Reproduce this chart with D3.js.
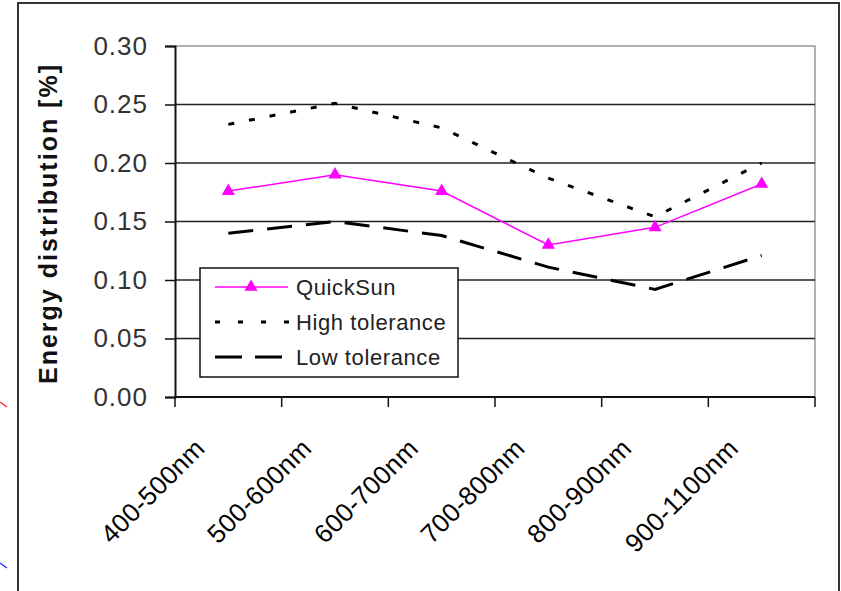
<!DOCTYPE html>
<html>
<head>
<meta charset="utf-8">
<script src="https://cdn.jsdelivr.net/npm/d3@7"></script>
<style>
  html, body { margin: 0; padding: 0; background: #fff; }
  svg { display: block; }
  text { font-family: Arial, "Liberation Sans", sans-serif; }
</style>
</head>
<body>
<svg id="chart" width="841" height="591"></svg>
<script>
// Spectral bands and energy share per band
const categories = ["400-500nm", "500-600nm", "600-700nm", "700-800nm", "800-900nm", "900-1100nm"];
const quickSun  = [0.176, 0.190, 0.176, 0.130, 0.145, 0.182];
const highTol   = [0.233, 0.251, 0.230, 0.187, 0.154, 0.200];
const lowTol    = [0.140, 0.150, 0.138, 0.111, 0.092, 0.121];
const yTicks    = [0.00, 0.05, 0.10, 0.15, 0.20, 0.25, 0.30];
const seriesNames = ["QuickSun", "High tolerance", "Low tolerance"];

const svg = d3.select("#chart");
const plot = { left: 175, right: 815, top: 46, bottom: 397 };

const x = d3.scaleBand().domain(categories).range([plot.left, plot.right]).padding(0);
const y = d3.scaleLinear().domain([0, 0.30]).range([plot.bottom, plot.top]);
const cx = c => x(c) + x.bandwidth() / 2;

// Outer frame (left, top, right edges)
svg.append("path")
  .attr("d", "M18,591 L18,3 L839,3 L839,591")
  .attr("fill", "none").attr("stroke", "#333").attr("stroke-width", 2);

// Stray connector fragments on the left margin
svg.append("line").attr("x1", 0).attr("y1", 402).attr("x2", 7).attr("y2", 407)
  .attr("stroke", "#ff2020").attr("stroke-width", 1.3);
svg.append("line").attr("x1", 0).attr("y1", 563).attr("x2", 7).attr("y2", 568)
  .attr("stroke", "#2020ff").attr("stroke-width", 1.3);

// Plot-area border (grey) top and right
svg.append("path")
  .attr("d", `M${plot.left},${plot.top} L${plot.right},${plot.top} L${plot.right},${plot.bottom}`)
  .attr("fill", "none").attr("stroke", "#999").attr("stroke-width", 1.5);

// Horizontal gridlines
svg.append("g").selectAll("line")
  .data(yTicks.filter(v => v > 0 && v < 0.30))
  .join("line")
  .attr("x1", plot.left).attr("x2", plot.right)
  .attr("y1", d => y(d)).attr("y2", d => y(d))
  .attr("stroke", "#222").attr("stroke-width", 1.5);

// Y axis
const yAxis = svg.append("g")
  .attr("transform", `translate(${plot.left},0)`)
  .call(d3.axisLeft(y).tickValues(yTicks).tickFormat(d3.format(".2f")).tickSize(10).tickPadding(17));
yAxis.select(".domain").attr("stroke", "#111").attr("stroke-width", 2);
yAxis.selectAll(".tick line").attr("stroke", "#111").attr("stroke-width", 1.5);
yAxis.selectAll(".tick text")
  .attr("font-size", 26).attr("fill", "#333").style("letter-spacing", "1px")
  .attr("font-family", "Arial, 'Liberation Sans', sans-serif");

// X axis: baseline, boundary ticks between bands, rotated band labels
const xg = svg.append("g");
xg.append("line")
  .attr("x1", plot.left).attr("x2", plot.right)
  .attr("y1", plot.bottom).attr("y2", plot.bottom)
  .attr("stroke", "#111").attr("stroke-width", 2);
const bounds = categories.map(c => x(c)).concat([plot.right]);
xg.selectAll("line.tick").data(bounds).join("line").attr("class", "tick")
  .attr("x1", d => d).attr("x2", d => d)
  .attr("y1", plot.bottom).attr("y2", plot.bottom + 10)
  .attr("stroke", "#111").attr("stroke-width", 1.5);
xg.selectAll("text").data(categories).join("text")
  .attr("transform", d => `translate(${cx(d) - 22},${plot.bottom + 53}) rotate(-45)`)
  .attr("text-anchor", "end")
  .attr("font-size", 26).style("letter-spacing", "0.3px")
  .attr("fill", "#000")
  .text(d => d);

// Y-axis title
svg.append("text")
  .attr("transform", `translate(57,${(62 + 385) / 2}) rotate(-90)`)
  .attr("text-anchor", "middle")
  .attr("font-size", 25).attr("font-weight", "bold")
  .style("letter-spacing", "2px")
  .attr("fill", "#111")
  .text("Energy distribution [%]");

// Series lines
const line = d3.line().x((d, i) => cx(categories[i])).y(d => y(d));

svg.append("path").datum(highTol).attr("d", line)
  .attr("fill", "none").attr("stroke", "#000").attr("stroke-width", 3)
  .attr("stroke-dasharray", "6,15");

svg.append("path").datum(lowTol).attr("d", line)
  .attr("fill", "none").attr("stroke", "#000").attr("stroke-width", 3)
  .attr("stroke-dasharray", "25,14");

svg.append("path").datum(quickSun).attr("d", line)
  .attr("fill", "none").attr("stroke", "#ff00ff").attr("stroke-width", 1.5);

const tri = d3.symbol().type(d3.symbolTriangle).size(75);
svg.append("g").selectAll("path").data(quickSun).join("path")
  .attr("d", tri)
  .attr("transform", (d, i) => `translate(${cx(categories[i])},${y(d)})`)
  .attr("fill", "#ff00ff");

// Legend
const lg = svg.append("g");
lg.append("rect").attr("x", 200).attr("y", 268).attr("width", 258).attr("height", 109)
  .attr("fill", "#fff").attr("stroke", "#111").attr("stroke-width", 1.5);
const legendRows = [
  { name: seriesNames[0], y: 287, stroke: "#ff00ff", width: 1.5, dash: null, marker: true },
  { name: seriesNames[1], y: 322, stroke: "#000", width: 3, dash: "5,18", marker: false },
  { name: seriesNames[2], y: 357, stroke: "#000", width: 3, dash: "27,13", marker: false }
];
legendRows.forEach(r => {
  lg.append("line").attr("x1", 215).attr("x2", r.dash === "5,18" ? 295 : 288)
    .attr("y1", r.y).attr("y2", r.y)
    .attr("stroke", r.stroke).attr("stroke-width", r.width)
    .attr("stroke-dasharray", r.dash);
  if (r.marker) {
    lg.append("path").attr("d", tri).attr("transform", `translate(251,${r.y})`).attr("fill", "#ff00ff");
  }
  lg.append("text").attr("x", 296).attr("y", r.y + 8)
    .attr("font-size", 22).style("letter-spacing", "0.6px")
    .attr("fill", "#222")
    .text(r.name);
});
</script>
</body>
</html>
